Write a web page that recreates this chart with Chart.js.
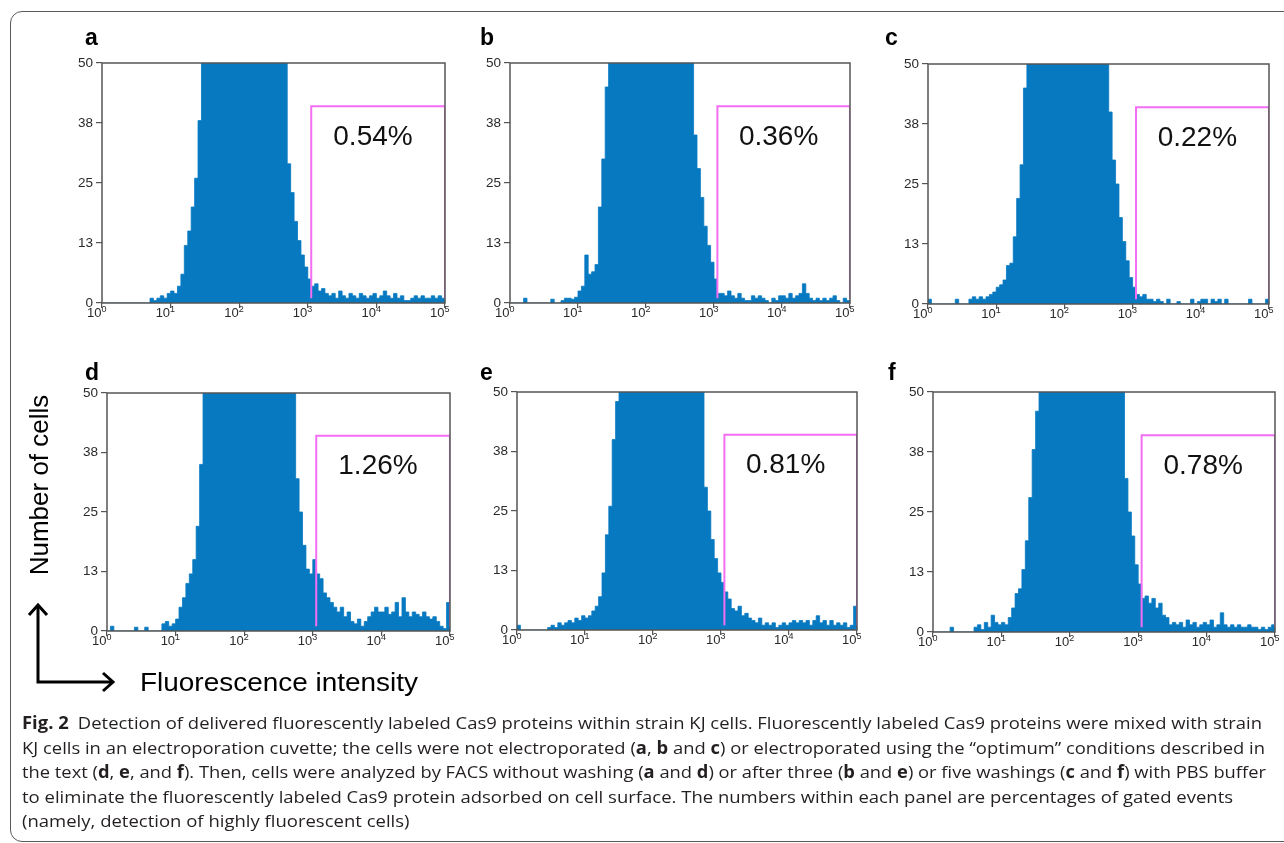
<!DOCTYPE html>
<html>
<head>
<meta charset="utf-8">
<script src="https://cdn.jsdelivr.net/npm/chart.js@4.4.1/dist/chart.umd.min.js"></script>
<style>
  html, body { margin: 0; padding: 0; background: #fff; }
  body { width: 1284px; height: 843px; position: relative; overflow: hidden; }
  .frame { position: absolute; left: 10px; top: 11px; width: 1300px; height: 829px;
           border: 1.5px solid #5a5a5a; border-radius: 12px; }
  canvas { position: absolute; }
  svg { position: absolute; left: 0; top: 0; }
</style>
</head>
<body>
<div class="frame"></div>
<canvas id="pa"></canvas>
<canvas id="pb"></canvas>
<canvas id="pc"></canvas>
<canvas id="pd"></canvas>
<canvas id="pe"></canvas>
<canvas id="pf"></canvas>

<svg width="1284" height="843">
  <g font-family="Liberation Sans, Arial, sans-serif" font-weight="bold" font-size="23" fill="#000">
    <text x="85" y="45">a</text>
    <text x="480" y="45">b</text>
    <text x="885" y="45">c</text>
    <text x="85" y="380">d</text>
    <text x="480" y="380">e</text>
    <text x="888" y="380">f</text>
  </g>
  <text transform="translate(48,485) rotate(-90)" text-anchor="middle"
        font-family="Liberation Sans, Arial, sans-serif" font-size="26" fill="#000">Number of cells</text>
  <text x="140" y="691" font-family="Liberation Sans, Arial, sans-serif" font-size="26" fill="#000"
        textLength="278" lengthAdjust="spacingAndGlyphs">Fluorescence intensity</text>
  <g stroke="#000" stroke-width="3" fill="none">
    <polyline points="38,605 38,682 113,682"/>
    <polyline points="29,615 38,605 47,615"/>
    <polyline points="103,673 113,682 103,691"/>
  </g>
  <g class="cap" font-family="Open Sans, sans-serif" font-size="17" fill="#231f20">
    <text x="22" y="729" data-w="1240"><tspan font-weight="bold">Fig. 2</tspan> <tspan dx="4">Detection of delivered fluorescently labeled Cas9 proteins within strain KJ cells. Fluorescently labeled Cas9 proteins were mixed with strain</tspan></text>
    <text x="22" y="754" data-w="1243">KJ cells in an electroporation cuvette; the cells were not electroporated (<tspan font-weight="bold">a</tspan>, <tspan font-weight="bold">b</tspan> and <tspan font-weight="bold">c</tspan>) or electroporated using the “optimum” conditions described in</text>
    <text x="22" y="778" data-w="1244">the text (<tspan font-weight="bold">d</tspan>, <tspan font-weight="bold">e</tspan>, and <tspan font-weight="bold">f</tspan>). Then, cells were analyzed by FACS without washing (<tspan font-weight="bold">a</tspan> and <tspan font-weight="bold">d</tspan>) or after three (<tspan font-weight="bold">b</tspan> and <tspan font-weight="bold">e</tspan>) or five washings (<tspan font-weight="bold">c</tspan> and <tspan font-weight="bold">f</tspan>) with PBS buffer</text>
    <text x="22" y="803">to eliminate the fluorescently labeled Cas9 protein adsorbed on cell surface. The numbers within each panel are percentages of gated events</text>
    <text x="22" y="827">(namely, detection of highly fluorescent cells)</text>
  </g>
</svg>

<script>
// histogram channels: 20 per decade on a log10 axis, 10^0 .. 10^5
const binWidth = 0.05;
const xTickExps = [0, 1, 2, 3, 4, 5];
const yTickValues = [0, 12.5, 25, 37.5, 50];
const yMax = 50;

// gate (log10 start/end, count top/base) and its percentages
const gateStart = 3.05, gateEnd = 5, gateTop = 41, gateBase = 1;
const gateLabels = ['0.54%', '0.36%', '0.22%', '1.26%', '0.81%', '0.78%'];
const gateLabelPos = [3.95, 34.5];

// counts per channel (values above 50 are off scale)
const countsA = [
  0, 0, 0, 0, 0, 0, 0, 0, 0, 0, 0, 0, 0, 0, 1, 0.5, 1, 1.5, 1, 2,
  2.5, 2, 3.5, 6, 12, 15, 20, 26, 38, 60, 60, 60, 60, 60, 60, 60, 60, 60, 60, 60,
  60, 60, 60, 60, 60, 60, 60, 60, 60, 60, 60, 60, 60, 60, 29, 23, 17, 13, 10, 7.5,
  5, 3.5, 4, 2.5, 3, 2, 1.5, 2, 1, 2.5, 1.5, 1, 2, 1.5, 1, 2, 1.5, 1, 1.5, 2,
  1, 1.5, 2.5, 1.5, 1, 2, 1, 1.5, 0.5, 0.5, 1, 1.5, 1, 1.5, 1, 1, 1.5, 1, 1.5, 1
];
const countsB = [
  0, 0, 0, 0, 1, 0, 0, 0, 0, 0, 0, 0, 0.8, 0, 0, 0.5, 1, 1, 0.8, 1.2,
  2.5, 3.5, 10, 6, 6.5, 8, 20, 30, 45, 60, 60, 60, 60, 60, 60, 60, 60, 60, 60, 60,
  60, 60, 60, 60, 60, 60, 60, 60, 60, 60, 60, 60, 60, 60, 35, 28, 22, 16, 12, 8.5,
  5, 2, 2, 1.5, 2.5, 1.5, 1, 2, 1, 0.5, 0.5, 1.5, 1, 1.5, 1, 0.5, 0, 1, 0.5, 1.5,
  1.5, 1, 2, 1, 1.5, 2, 4, 2, 1, 0.5, 1, 0.5, 1, 0.5, 1, 1.5, 0.5, 0, 1, 0.5
];
const countsC = [
  1, 0, 0, 0, 0, 0, 0, 0, 1, 0, 0, 0, 1, 1.5, 1, 1.5, 1, 1.5, 2, 2.5,
  3.5, 4, 5, 8, 8.5, 14, 22, 29, 45, 60, 60, 60, 60, 60, 60, 60, 60, 60, 60, 60,
  60, 60, 60, 60, 60, 60, 60, 60, 60, 60, 60, 60, 60, 40, 30, 25, 18, 13, 9, 5.5,
  3.5, 2, 1.5, 2, 1, 1, 0.5, 1, 0.5, 0, 1, 0, 0, 0.5, 0, 0, 0, 1, 0, 0.5,
  1, 1, 0, 1, 0.5, 1, 0, 1, 0, 0, 0, 0, 0, 0, 1, 0, 0, 0, 0, 1
];
const countsD = [
  0, 1, 0, 0, 0, 0, 0, 0, 0.8, 0, 0, 0.8, 0, 0, 0, 0, 1.5, 2, 1, 1.5,
  2.5, 5, 7, 10, 12, 15, 22, 35, 60, 60, 60, 60, 60, 60, 60, 60, 60, 60, 60, 60,
  60, 60, 60, 60, 60, 60, 60, 60, 60, 60, 60, 60, 60, 60, 60, 32, 25, 18, 13, 12,
  15, 12, 11, 8, 7, 6, 5, 4, 5, 3, 4, 2, 1.5, 2.5, 1, 2, 3, 4, 5, 4,
  4, 5, 3.5, 4, 6, 3, 7, 4, 3, 4, 3.5, 3, 4, 3, 2.5, 3, 2, 1, 0.5, 6
];
const countsE = [
  1, 0, 0, 0, 0, 0, 0, 0, 0, 0.5, 1, 0.5, 1.5, 1, 1.5, 2, 1.5, 2.5, 2, 3,
  2.5, 3, 4, 5, 7, 12, 20, 26, 40, 48, 60, 60, 60, 60, 60, 60, 60, 60, 60, 60,
  60, 60, 60, 60, 60, 60, 60, 60, 60, 60, 60, 60, 60, 60, 60, 30, 25, 19, 15, 12,
  10, 8, 6.5, 4.5, 4, 5, 3, 3.5, 2.5, 2, 1.5, 2.5, 1, 1.5, 1, 1.5, 0.5, 1, 1.5, 1,
  1.5, 2, 1.5, 2, 1.5, 2, 1, 2, 3, 1.5, 2, 1, 2, 1, 1.5, 1, 1.5, 0.5, 1, 5
];
const countsF = [
  0, 0, 0, 0, 0, 1, 0, 0, 0, 0, 0, 0, 1, 1.5, 0.5, 2, 1, 3.5, 2, 1.5,
  2, 1.5, 3, 5, 8, 9, 13, 19, 28, 38, 46, 60, 60, 60, 60, 60, 60, 60, 60, 60,
  60, 60, 60, 60, 60, 60, 60, 60, 60, 60, 60, 60, 60, 60, 60, 60, 32, 25, 20, 14,
  10, 7, 7.5, 6, 7, 5, 6, 3.5, 3, 1.5, 2, 1.5, 2, 1, 2.5, 1.5, 2, 1, 1.5, 2,
  1.5, 2.5, 1, 1.5, 4, 1.5, 1, 1.5, 1, 1.5, 1, 1, 1.5, 1, 1, 0.5, 1, 0.5, 1, 1.5
];

const BLUE = '#0679c1';
const PINK = '#f36ef2';
const AXIS = '#555555';
const TICK_TEXT = '#2a2a2a';
const FONT = '"Liberation Sans", Arial, sans-serif';

// plot rectangles [left, top, right, bottom] in page pixels
const panels = [
  { id: 'pa', counts: countsA, label: gateLabels[0], rect: [102, 63, 445, 303] },
  { id: 'pb', counts: countsB, label: gateLabels[1], rect: [510, 63, 850, 303] },
  { id: 'pc', counts: countsC, label: gateLabels[2], rect: [928, 64, 1269, 304] },
  { id: 'pd', counts: countsD, label: gateLabels[3], rect: [107, 393, 450, 631] },
  { id: 'pe', counts: countsE, label: gateLabels[4], rect: [517, 392, 857, 630] },
  { id: 'pf', counts: countsF, label: gateLabels[5], rect: [933, 392, 1275, 632] }
];

const Y_W = 40, X_H = 30, PAD_T = 10, PAD_R = 16;

// caption: full lines fitted to their width, short lines squeezed by the same factor
const capLines = Array.from(document.querySelectorAll('.cap text'));
const natural = capLines.map(t => t.getComputedTextLength());
const squeeze = 1240 / natural[0];
capLines.forEach((t, i) => {
  const w = t.dataset.w ? +t.dataset.w : natural[i] * squeeze;
  t.setAttribute('textLength', w);
  t.setAttribute('lengthAdjust', 'spacingAndGlyphs');
});

const panelDecor = {
  id: 'panelDecor',
  afterDatasetsDraw(chart, args, opts) {
    const { ctx, chartArea: a, scales: { x, y } } = chart;
    ctx.save();
    ctx.strokeStyle = AXIS;
    ctx.lineWidth = 1.5;
    ctx.strokeRect(a.left, a.top, a.right - a.left, a.bottom - a.top);

    ctx.fillStyle = TICK_TEXT;
    ctx.textAlign = 'left';
    ctx.textBaseline = 'alphabetic';
    x.ticks.forEach(t => {
      const px = x.getPixelForValue(t.value);
      ctx.font = '13px ' + FONT;
      const w = ctx.measureText('10').width;
      ctx.fillText('10', px - w - 0.5, a.bottom + 14);
      ctx.font = '9px ' + FONT;
      ctx.fillText(String(t.value), px - 0.5, a.bottom + 8.5);
    });

    ctx.font = '28px ' + FONT;
    ctx.fillStyle = '#111';
    ctx.textAlign = 'center';
    ctx.textBaseline = 'middle';
    ctx.fillText(opts.label, x.getPixelForValue(gateLabelPos[0]), y.getPixelForValue(gateLabelPos[1]));
    ctx.restore();
  }
};

panels.forEach(p => {
  const [L, T, R, B] = p.rect;
  const cv = document.getElementById(p.id);
  cv.width = R - L + Y_W + PAD_R;
  cv.height = B - T + PAD_T + X_H;
  cv.style.left = (L - Y_W) + 'px';
  cv.style.top = (T - PAD_T) + 'px';

  const hist = p.counts.map((c, i) => ({ x: i * binWidth, y: c }));
  hist.push({ x: p.counts.length * binWidth, y: p.counts[p.counts.length - 1] });

  const gate = [
    { x: gateStart, y: gateBase }, { x: gateStart, y: gateTop },
    { x: gateEnd, y: gateTop }, { x: gateEnd, y: gateBase }
  ];

  new Chart(cv, {
    type: 'line',
    data: {
      datasets: [
        { data: gate, borderColor: PINK, borderWidth: 2, pointRadius: 0, fill: false, tension: 0 },
        { data: hist, stepped: true, fill: 'origin', backgroundColor: BLUE, borderColor: BLUE,
          borderWidth: 0.8, pointRadius: 0 }
      ]
    },
    options: {
      responsive: false,
      animation: false,
      events: [],
      layout: { padding: { left: 0, top: PAD_T, right: PAD_R, bottom: 0 } },
      plugins: {
        legend: { display: false },
        tooltip: { enabled: false },
        panelDecor: { label: p.label }
      },
      scales: {
        x: {
          type: 'linear', min: xTickExps[0], max: xTickExps[xTickExps.length - 1],
          afterBuildTicks: s => { s.ticks = xTickExps.map(v => ({ value: v })); },
          ticks: { display: false },
          grid: { drawOnChartArea: false, tickLength: 5, color: AXIS, lineWidth: 1.2 },
          border: { display: false },
          afterFit: s => { s.height = X_H; s.paddingLeft = 0; s.paddingRight = 0; }
        },
        y: {
          min: 0, max: yMax,
          afterBuildTicks: s => { s.ticks = yTickValues.map(v => ({ value: v })); },
          ticks: { callback: v => Math.round(v), color: TICK_TEXT, padding: 3,
                   font: { family: FONT, size: 13.5 } },
          grid: { drawOnChartArea: false, tickLength: 6, color: AXIS, lineWidth: 1.2 },
          border: { display: false },
          afterFit: s => { s.width = Y_W; s.paddingTop = 0; s.paddingBottom = 0; }
        }
      }
    },
    plugins: [panelDecor]
  });
});
</script>
</body>
</html>
